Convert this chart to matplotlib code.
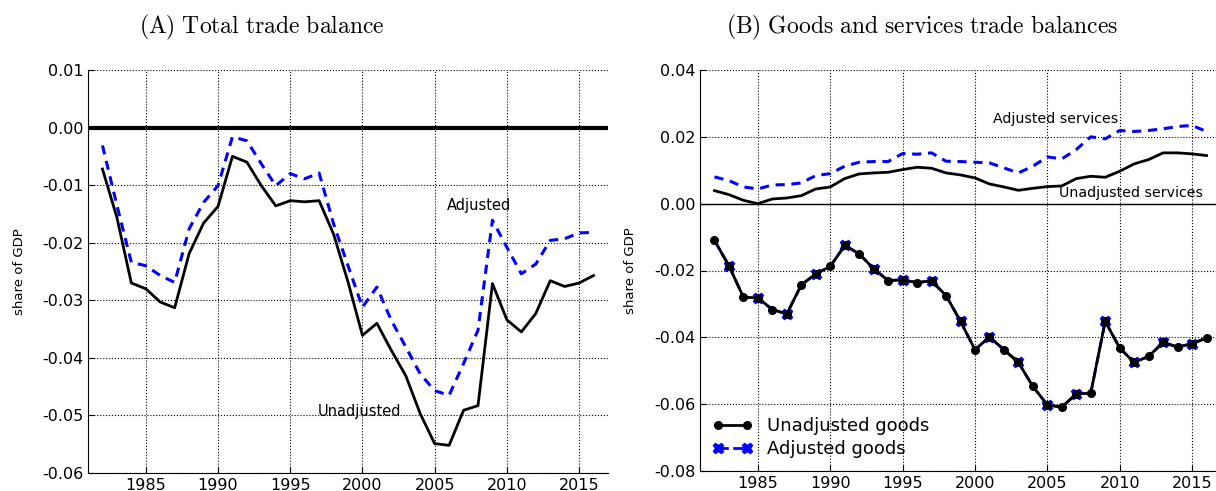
import matplotlib
matplotlib.use("Agg")
from matplotlib import pyplot as plt

plt.rcParams['mathtext.fontset'] = 'cm'

years = list(range(1982, 2017))

# panel A: total trade balance (share of GDP)
total_unadj = [-0.0072, -0.0156, -0.0270, -0.0280, -0.0303, -0.0313, -0.0219, -0.0166, -0.0137,
               -0.0050, -0.0060, -0.0101, -0.0136, -0.0127, -0.0129, -0.0127, -0.0185, -0.0268,
               -0.0361, -0.0340, -0.0387, -0.0431, -0.0497, -0.0549, -0.0552, -0.0491, -0.0483,
               -0.0271, -0.0334, -0.0355, -0.0323, -0.0266, -0.0276, -0.0270, -0.0257]
total_adj = [-0.0031, -0.0135, -0.0234, -0.0240, -0.0257, -0.0269, -0.0176, -0.0130, -0.0101,
             -0.0016, -0.0023, -0.0063, -0.0101, -0.0080, -0.0089, -0.0079, -0.0167, -0.0240,
             -0.0312, -0.0277, -0.0335, -0.0381, -0.0428, -0.0457, -0.0465, -0.0410, -0.0352,
             -0.0161, -0.0208, -0.0254, -0.0237, -0.0196, -0.0193, -0.0183, -0.0182]

# panel B: goods and services
serv_unadj = [0.0039, 0.0027, 0.0010, 0.0000, 0.0014, 0.0017, 0.0024, 0.0044, 0.0050,
              0.0075, 0.0089, 0.0092, 0.0094, 0.0102, 0.0109, 0.0106, 0.0092, 0.0086,
              0.0077, 0.0059, 0.0050, 0.0040, 0.0046, 0.0051, 0.0053, 0.0075, 0.0082,
              0.0079, 0.0097, 0.0119, 0.0132, 0.0152, 0.0152, 0.0149, 0.0144]
serv_adj = [0.0080, 0.0069, 0.0050, 0.0044, 0.0056, 0.0057, 0.0062, 0.0084, 0.0090,
            0.0112, 0.0124, 0.0126, 0.0126, 0.0150, 0.0148, 0.0152, 0.0127, 0.0126,
            0.0124, 0.0122, 0.0107, 0.0092, 0.0112, 0.0140, 0.0134, 0.0162, 0.0200,
            0.0194, 0.0219, 0.0216, 0.0219, 0.0224, 0.0231, 0.0234, 0.0216]
goods_unadj = [-0.0110, -0.0186, -0.0280, -0.0282, -0.0317, -0.0330, -0.0243, -0.0210, -0.0188,
               -0.0125, -0.0150, -0.0195, -0.0230, -0.0228, -0.0236, -0.0231, -0.0275, -0.0352,
               -0.0437, -0.0399, -0.0437, -0.0475, -0.0547, -0.0602, -0.0609, -0.0569, -0.0567,
               -0.0352, -0.0432, -0.0475, -0.0457, -0.0415, -0.0429, -0.0419, -0.0402]
goods_adj = [-0.0110, -0.0186, -0.0280, -0.0282, -0.0317, -0.0330, -0.0243, -0.0210, -0.0188,
             -0.0125, -0.0150, -0.0195, -0.0230, -0.0228, -0.0236, -0.0231, -0.0275, -0.0352,
             -0.0437, -0.0399, -0.0437, -0.0475, -0.0547, -0.0602, -0.0609, -0.0569, -0.0567,
             -0.0352, -0.0432, -0.0475, -0.0457, -0.0415, -0.0429, -0.0419, -0.0402]

W, H = 1216, 491
fig = plt.figure(figsize=(W / 100, H / 100), dpi=100)
fig.patch.set_facecolor('white')

ax1 = fig.add_axes([88 / W, 1 - 473 / H, 520 / W, 403 / H])
ax2 = fig.add_axes([700 / W, 1 - 471 / H, 521 / W, 401 / H])


def style(ax):
    ax.set_xlim(1981, 2017)
    ax.set_xticks([1985, 1990, 1995, 2000, 2005, 2010, 2015])
    ax.grid(True, color='black', linestyle=':', linewidth=0.8)
    ax.spines['top'].set_visible(False)
    ax.spines['right'].set_visible(False)
    ax.tick_params(direction='in', length=4, labelsize=11.5, top=False, right=False)
    ax.set_ylabel('share of GDP', fontsize=9.5)
    ax.yaxis.set_major_formatter(matplotlib.ticker.FormatStrFormatter('%.2f'))


# left panel
ax1.axhline(0, color='black', linewidth=3)
ax1.plot(years, total_adj, color='blue', linestyle='--', dashes=(3, 2.2), linewidth=2.2)
ax1.plot(years, total_unadj, color='black', linewidth=2)
ax1.set_ylim(-0.06, 0.01)
ax1.set_yticks([-0.06, -0.05, -0.04, -0.03, -0.02, -0.01, 0.0, 0.01])
ax1.text(2008.1, -0.0135, 'Adjusted', fontsize=10.5, ha='center', va='center')
ax1.text(1999.8, -0.0494, 'Unadjusted', fontsize=10.5, ha='center', va='center')
style(ax1)
ax1.yaxis.set_label_coords(-0.12, 0.5)

# right panel
ax2.axhline(0, color='black', linewidth=1)
ax2.plot(years, serv_adj, color='blue', linestyle='--', dashes=(3, 2.2), linewidth=2.2)
ax2.plot(years, serv_unadj, color='black', linewidth=2)
ax2.plot(years, goods_adj, color='blue', linestyle='--', marker='X', markersize=7.5,
         markevery=(1, 2), linewidth=2, label='Adjusted goods')
ax2.plot(years, goods_unadj, color='black', marker='o', markersize=5.5, linewidth=2,
         label='Unadjusted goods')
ax2.set_ylim(-0.08, 0.04)
ax2.set_yticks([-0.08, -0.06, -0.04, -0.02, 0.0, 0.02, 0.04])
ax2.text(2005.6, 0.0254, 'Adjusted services', fontsize=10.2, ha='center', va='center')
ax2.text(2010.8, 0.0033, 'Unadjusted services', fontsize=10.2, ha='center', va='center')
style(ax2)
ax2.yaxis.set_label_coords(-0.12, 0.5)
h, l = ax2.get_legend_handles_labels()
ax2.legend(h[::-1], l[::-1], loc='lower left', frameon=False, fontsize=13, numpoints=2,
           handlelength=2.2, borderaxespad=0.3, labelspacing=0.3)

fig.text(262 / W, 1 - 27 / H, r'$\mathrm{(A)\ Total\ trade\ balance}$', fontsize=17,
         ha='center', va='center')
fig.text(922 / W, 1 - 27 / H, r'$\mathrm{(B)\ Goods\ and\ services\ trade\ balances}$',
         fontsize=17, ha='center', va='center')

fig.savefig('out.png', dpi=100)
